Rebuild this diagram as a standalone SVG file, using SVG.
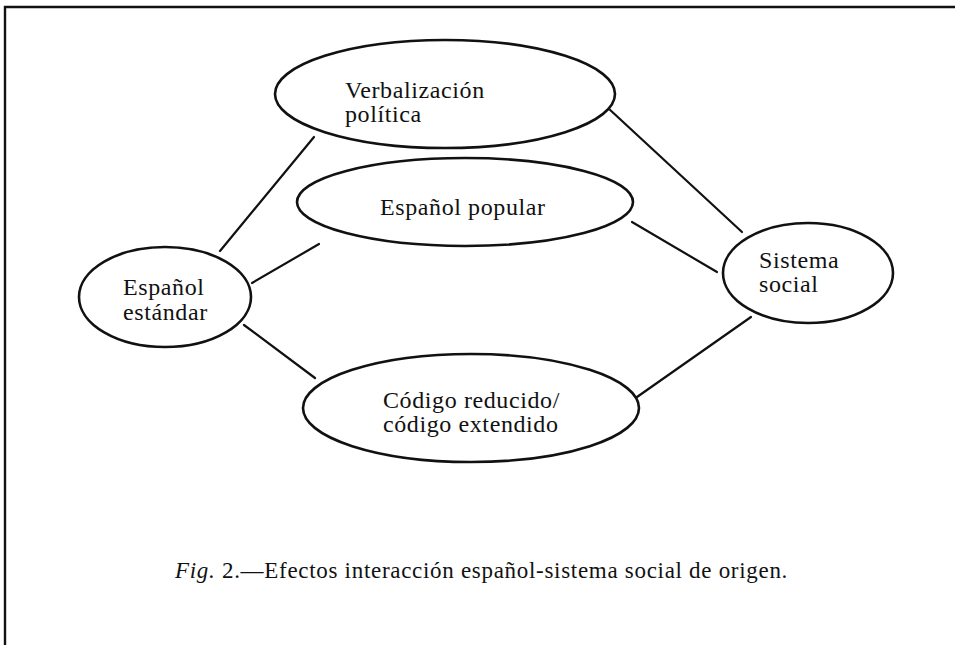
<svg xmlns="http://www.w3.org/2000/svg" width="955" height="645" viewBox="0 0 955 645">
<style>
.node ellipse{fill:#fff;stroke:#111;stroke-width:2.6}
.conn line{stroke:#111;stroke-width:2.2;stroke-linecap:round}
text{font-family:"Liberation Serif","DejaVu Serif",serif;font-size:24px;letter-spacing:0.6px;fill:#111}
.cap{font-size:23px;letter-spacing:0.7px}
</style>
<rect width="955" height="645" fill="#fff"/>
<path d="M5,645 V7 H955" fill="none" stroke="#111" stroke-width="2.4"/>
<g id="connectors" class="conn">
<line x1="220" y1="251" x2="314" y2="137"/>
<line x1="252" y1="283" x2="319" y2="244"/>
<line x1="244" y1="325" x2="315" y2="378"/>
<line x1="608" y1="108" x2="742" y2="232"/>
<line x1="632" y1="222" x2="717" y2="272"/>
<line x1="637" y1="397" x2="751" y2="317"/>
</g>
<g id="verbalizacion" class="node">
<ellipse cx="445" cy="94" rx="170" ry="54"/>
<text x="345" y="98">Verbalización</text>
<text x="345" y="122">política</text>
</g>
<g id="espanol-popular" class="node">
<ellipse cx="465" cy="202" rx="168" ry="44"/>
<text x="380" y="215">Español popular</text>
</g>
<g id="espanol-estandar" class="node">
<ellipse cx="165" cy="297" rx="86" ry="50"/>
<text x="123" y="295">Español</text>
<text x="123" y="320">estándar</text>
</g>
<g id="codigo" class="node">
<ellipse cx="471" cy="408" rx="168" ry="54"/>
<text x="383" y="408">Código reducido/</text>
<text x="383" y="432">código extendido</text>
</g>
<g id="sistema-social" class="node">
<ellipse cx="808" cy="273" rx="85" ry="50"/>
<text x="759" y="268">Sistema</text>
<text x="759" y="292">social</text>
</g>
<text class="cap" x="175" y="578"><tspan font-style="italic">Fig.</tspan> 2.—Efectos interacción español-sistema social de origen.</text>
</svg>
